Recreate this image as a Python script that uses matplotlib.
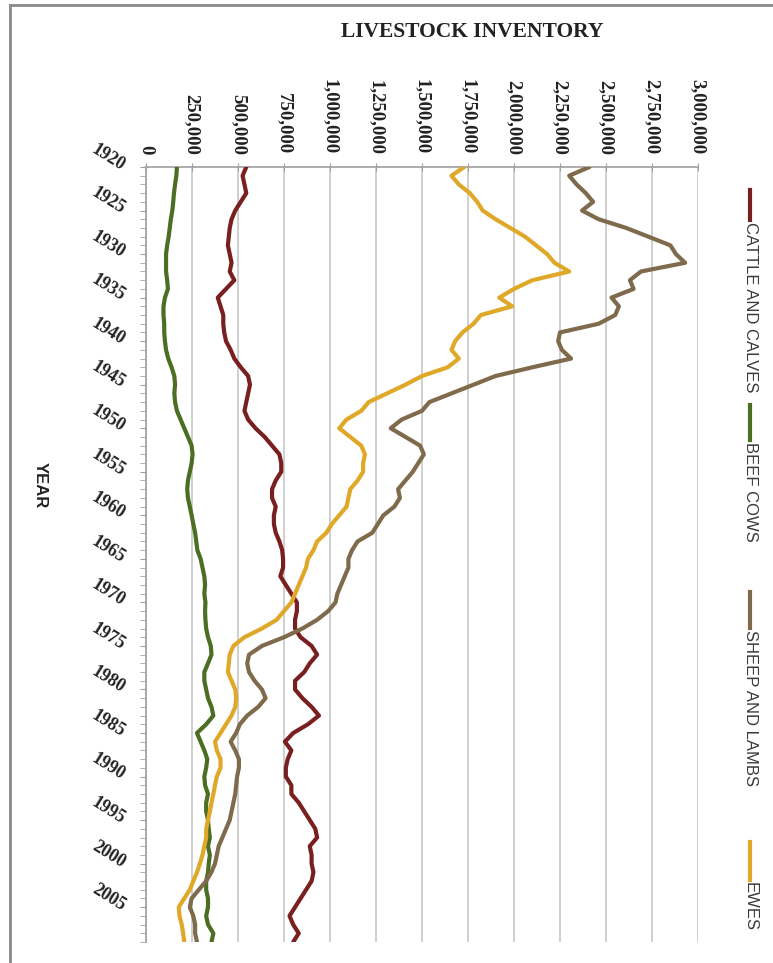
import matplotlib
matplotlib.use('Agg')
import matplotlib.pyplot as plt
from matplotlib.lines import Line2D
from matplotlib.ticker import FuncFormatter, MultipleLocator

years = list(range(1920, 2010))

cattle = [545, 525, 535, 545, 515, 485, 465, 455, 450, 445,
          455, 465, 455, 480, 435, 390, 405, 420, 420, 425,
          435, 460, 480, 515, 555, 565, 555, 545, 535, 555,
          595, 645, 685, 725, 735, 735, 705, 685, 685, 705,
          695, 695, 705, 725, 740, 745, 745, 730, 760, 790,
          820, 820, 810, 810, 840, 900, 930, 890, 860, 810,
          810, 850, 900, 940, 880, 800, 755, 790, 770, 760,
          760, 790, 790, 830, 860, 890, 920, 930, 890, 900,
          900, 910, 900, 870, 840, 810, 780, 800, 830, 800]

beef_cows = [168, 165, 158, 152, 148, 143, 135, 129, 123, 115,
             109, 109, 109, 115, 119, 103, 95, 95, 99, 99,
             103, 109, 121, 139, 154, 158, 154, 158, 168, 188,
             208, 228, 248, 253, 248, 238, 228, 224, 228, 238,
             248, 257, 267, 273, 279, 297, 307, 317, 321, 317,
             323, 321, 323, 327, 337, 352, 356, 337, 317, 317,
             327, 337, 356, 366, 327, 277, 297, 317, 333, 327,
             317, 321, 337, 327, 327, 337, 341, 347, 337, 347,
             341, 337, 327, 327, 337, 337, 327, 337, 366, 356]

sheep = [2410, 2300, 2340, 2390, 2430, 2370, 2460, 2610, 2730, 2850,
         2880, 2930, 2690, 2630, 2650, 2530, 2570, 2550, 2460, 2250,
         2240, 2260, 2310, 2100, 1900, 1780, 1660, 1540, 1500, 1390,
         1330, 1410, 1490, 1510, 1480, 1450, 1410, 1370, 1380, 1350,
         1290, 1260, 1230, 1150, 1120, 1100, 1100, 1080, 1060, 1040,
         1030, 990, 930, 850, 750, 630, 560, 550, 560, 590,
         630, 650, 610, 550, 510, 490, 460, 485, 505, 505,
         495, 490, 485, 475, 465, 455, 435, 415, 395, 385,
         375, 355, 327, 287, 248, 238, 257, 267, 267, 277]

ewes = [1730, 1660, 1700, 1760, 1800, 1830, 1900, 1980, 2060, 2120,
        2180, 2220, 2300, 2100, 2000, 1920, 1990, 1820, 1780, 1720,
        1680, 1660, 1700, 1640, 1500, 1410, 1310, 1210, 1170, 1090,
        1050, 1110, 1170, 1190, 1180, 1180, 1150, 1110, 1100, 1090,
        1050, 1010, 980, 930, 910, 880, 870, 850, 830, 810,
        790, 750, 710, 630, 535, 475, 455, 450, 445, 465,
        485, 490, 485, 465, 435, 405, 375, 385, 405, 405,
        385, 375, 366, 356, 347, 337, 327, 327, 317, 307,
        293, 277, 257, 238, 208, 178, 182, 194, 202, 208]

series_names = ["CATTLE AND CALVES", "BEEF COWS", "SHEEP AND LAMBS", "EWES"]
series_data = [cattle, beef_cows, sheep, ewes]
colors = ["#7a1f1f", "#4c6e22", "#7f6a4c", "#e0a828"]

W, H = 773, 963
fig = plt.figure(figsize=(W / 100, H / 100), dpi=100)
fig.patch.set_facecolor('white')

ax = fig.add_axes([146 / W, 1 - 942 / H, (698 - 146) / W, (942 - 167) / H])

for vals, c in zip(series_data, colors):
    ax.plot([v * 1000 for v in vals], years, color=c, lw=3.0,
            solid_joinstyle='round', solid_capstyle='round', zorder=3)

ax.set_xlim(0, 3000000)
ax.set_ylim(2009, 1920)
ax.xaxis.set_major_locator(MultipleLocator(250000))
ax.xaxis.set_major_formatter(FuncFormatter(lambda v, p: f"{int(v):,}"))
ax.xaxis.tick_top()
ax.grid(axis='x', color='#cfcfcf', lw=1.4, zorder=0)

ax.yaxis.set_major_locator(MultipleLocator(5))
ax.yaxis.set_minor_locator(MultipleLocator(1))

for sp in ['right', 'bottom']:
    ax.spines[sp].set_visible(False)
ax.spines['top'].set_color('#a0a0a0')
ax.spines['left'].set_color('#a0a0a0')
ax.spines['top'].set_linewidth(1.2)
ax.spines['left'].set_linewidth(1.2)

ax.tick_params(axis='x', which='major', direction='inout', length=6,
               color='#a0a0a0', pad=6)
ax.tick_params(axis='y', which='both', direction='out', length=4,
               color='#a0a0a0', pad=12)

for lab in ax.get_xticklabels():
    lab.set_rotation(270)
    lab.set_fontfamily('Liberation Serif')
    lab.set_fontweight('bold')
    lab.set_fontsize(13.5)
    lab.set_color('#222222')
    lab.set_va('bottom')
    lab.set_ha('center')

for lab in ax.get_yticklabels():
    lab.set_rotation(-32)
    lab.set_rotation_mode('anchor')
    lab.set_fontfamily('Liberation Serif')
    lab.set_fontweight('bold')
    lab.set_fontsize(13)
    lab.set_color('#222222')
    lab.set_ha('right')
    lab.set_va('center')

fig.text(472 / W, 1 - 32 / H, "LIVESTOCK INVENTORY", ha='center', va='center',
         fontsize=15.5, fontweight='bold', family='Liberation Serif', color='#222222')

fig.text(40 / W, 1 - 485 / H, "YEAR", rotation=270, ha='center', va='center',
         fontsize=12, fontweight='bold',
         family=['Liberation Sans Narrow', 'Liberation Sans'], color='#222222')

legend_pos = [(190, 220), (405, 440), (592, 628), (842, 880)]
lx = 750
for name, c, (y0, y1) in zip(series_names, colors, legend_pos):
    fig.add_artist(Line2D([lx / W, lx / W], [1 - y0 / H, 1 - y1 / H],
                          transform=fig.transFigure, color=c, lw=3.0))
    fig.text(lx / W, 1 - (y1 + 2) / H, name, rotation=270, ha='center', va='top',
             fontsize=12, family=['Liberation Sans Narrow', 'Liberation Sans'],
             color='#3a3a3a')

# outer frame lines
fig.add_artist(Line2D([10 / W, 10 / W], [0, 1 - 5 / H], transform=fig.transFigure,
                      color='#8a8a8a', lw=2))
fig.add_artist(Line2D([10 / W, 1], [1 - 5 / H, 1 - 5 / H], transform=fig.transFigure,
                      color='#8a8a8a', lw=2))

fig.savefig('out.png', dpi=100, facecolor='white')
